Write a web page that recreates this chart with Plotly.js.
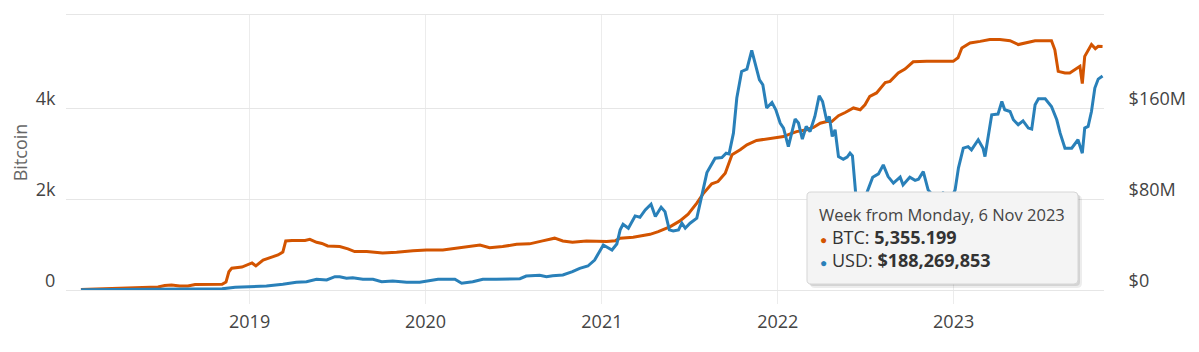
<!DOCTYPE html>
<html><head><meta charset="utf-8">
<script src="https://cdn.plot.ly/plotly-3.0.1.min.js"></script>
<style>html,body{margin:0;padding:0;background:#fff;}#chart{width:1199px;height:352px;}</style>
</head><body><div id="chart"></div>
<script>
// ---- data ----
const btcDates = [
'2018-01-16','2018-04-07','2018-06-25','2018-07-09','2018-07-23','2018-08-09','2018-08-26','2018-09-10','2018-11-05','2018-11-13','2018-11-19','2018-11-25','2018-12-16',
'2019-01-06','2019-01-14','2019-01-29','2019-02-12','2019-03-01','2019-03-11','2019-03-17','2019-03-30','2019-04-15','2019-04-26','2019-05-06','2019-05-20','2019-05-31','2019-06-12','2019-07-07','2019-07-24','2019-08-07','2019-09-01','2019-10-04','2019-11-02','2019-12-06',
'2020-01-03','2020-02-06','2020-03-05','2020-04-02','2020-04-23','2020-05-13','2020-06-09','2020-07-08','2020-08-04','2020-08-31','2020-09-25','2020-10-12','2020-11-01','2020-11-30','2020-12-29',
'2021-01-11','2021-01-29','2021-02-08','2021-03-07','2021-04-11','2021-04-28','2021-05-23','2021-06-12','2021-06-29','2021-07-17','2021-07-30','2021-08-17','2021-08-30','2021-09-14','2021-09-28','2021-10-15','2021-10-29','2021-11-18','2021-12-09','2021-12-30',
'2022-01-13','2022-01-27','2022-02-09','2022-03-02','2022-03-16','2022-03-30','2022-04-13','2022-04-23','2022-04-30','2022-05-07','2022-05-21','2022-06-07','2022-06-21','2022-07-01','2022-07-11','2022-07-25','2022-08-12','2022-08-22','2022-09-08','2022-09-22','2022-10-09','2022-11-06','2022-12-31',
'2023-01-10','2023-01-18','2023-02-04','2023-02-25','2023-03-17','2023-04-07','2023-04-28','2023-05-15','2023-06-01','2023-06-19','2023-07-23','2023-07-30','2023-08-06','2023-08-20','2023-08-30','2023-09-16','2023-09-20','2023-09-25','2023-09-30','2023-10-14','2023-10-22','2023-10-28','2023-11-06'
];
const btcValues = [
10,30,65,100,110,88,88,120,125,175,400,480,505,
595,530,660,715,770,835,1080,1090,1085,1090,1115,1050,1025,970,955,905,845,845,815,830,865,
880,880,920,955,990,930,955,1005,1015,1080,1140,1080,1050,1080,1080,
1065,1085,1140,1160,1225,1285,1395,1520,1670,1910,2115,2335,2385,2570,2975,3085,3195,3290,3320,3340,
3375,3435,3485,3525,3575,3670,3705,3705,3780,3835,3905,4005,3965,4075,4260,4335,4565,4590,4775,4860,5020,5030,5030,
5110,5325,5435,5470,5510,5510,5485,5400,5435,5485,5485,5285,4810,4775,4775,4885,4920,4540,5140,5400,5310,5360,5355.199
];
const usdDates = [
'2018-01-16','2018-06-08','2018-11-05','2018-12-02',
'2019-01-12','2019-02-05','2019-03-11','2019-04-08','2019-04-29','2019-05-20','2019-06-10','2019-06-27','2019-07-07','2019-07-21','2019-08-03','2019-08-24','2019-09-14','2019-10-02','2019-10-25','2019-11-23','2019-12-20',
'2020-01-10','2020-01-27','2020-03-02','2020-03-16','2020-04-08','2020-04-29','2020-05-27','2020-06-24','2020-07-15','2020-07-28','2020-08-25','2020-09-08','2020-09-21','2020-10-12','2020-11-01','2020-11-16','2020-12-03','2020-12-17',
'2021-01-04','2021-01-22','2021-02-01','2021-02-08','2021-02-14','2021-02-25','2021-03-11','2021-03-21','2021-04-01','2021-04-13','2021-04-22','2021-05-04','2021-05-12','2021-05-21','2021-05-29','2021-06-09','2021-06-16','2021-06-23','2021-07-03','2021-07-17','2021-07-27','2021-08-07','2021-08-24','2021-09-07','2021-09-16','2021-09-22','2021-10-01','2021-10-08','2021-10-18','2021-10-29','2021-11-08','2021-11-15','2021-11-24','2021-12-01','2021-12-09','2021-12-20','2021-12-28',
'2022-01-06','2022-01-13','2022-01-23','2022-02-06','2022-02-13','2022-02-21','2022-03-01','2022-03-09','2022-03-19','2022-03-28','2022-04-04','2022-04-13','2022-04-18','2022-04-24','2022-04-30','2022-05-07','2022-05-17','2022-05-25','2022-05-31','2022-06-05','2022-06-12','2022-06-19','2022-06-27','2022-07-05','2022-07-17','2022-07-29','2022-08-08','2022-08-18','2022-08-29','2022-09-12','2022-09-18','2022-10-02','2022-10-13','2022-10-20','2022-10-30','2022-11-09','2022-11-20','2022-11-29','2022-12-10','2022-12-20','2022-12-31',
'2023-01-04','2023-01-11','2023-01-21','2023-01-31','2023-02-07','2023-02-21','2023-03-03','2023-03-07','2023-03-21','2023-04-03','2023-04-11','2023-04-17','2023-04-28','2023-05-05','2023-05-15','2023-05-25','2023-06-05','2023-06-12','2023-06-19','2023-06-26','2023-07-10','2023-07-23','2023-08-03','2023-08-10','2023-08-20','2023-09-03','2023-09-16','2023-09-25','2023-09-30','2023-10-07','2023-10-14','2023-10-21','2023-10-28','2023-11-06'
];
const usdMillions = [
0.3,0.8,1.0,2.5,
3.5,3.5,5.0,6.8,7.3,9.4,8.8,11.7,11.7,10.3,10.8,9.4,9.4,7.3,7.9,6.8,6.8,
7.9,9.4,9.4,5.9,7.3,9.4,9.4,9.7,10.0,12.3,13.0,11.7,12.6,13.2,16.1,19.1,21.1,26.4,
39.6,35.2,40.5,52.9,57.9,54.4,65.2,64.0,70.5,75.5,64.6,72.9,69.0,52.9,52.0,52.9,58.8,54.4,58.8,63.2,83.7,103.3,116.0,116.6,120.4,119.8,138.0,168.9,192.3,194.4,210.8,199.7,185.0,180.6,160.1,165.0,158.6,
146.9,142.5,126.2,150.4,146.9,132.8,143.9,139.5,152.7,170.9,165.9,148.3,152.7,135.1,141.0,117.4,115.1,116.9,120.4,118.1,83.7,75.8,79.3,85.7,99.3,102.2,110.1,99.8,94.0,99.3,92.5,99.3,96.5,97.5,104.2,88.1,82.8,81.9,85.5,82.8,84.6,
88.0,107.5,124.8,126.2,123.3,132.2,124.8,117.4,154.2,154.8,165.9,158.6,157.1,149.8,145.4,148.9,142.5,141.6,163.0,168.3,168.3,161.5,149.8,138.0,124.8,124.8,132.2,120.4,142.5,143.9,157.1,177.7,185.6,188.269853
];
const xTickValues = ['2019-01-01','2020-01-01','2021-01-01','2022-01-01','2023-01-01'];
const xTickLabels = ['2019','2020','2021','2022','2023'];
const leftTickValues = [0, 2000, 4000];
const leftTickLabels = ['0', '2k', '4k'];
const rightTickValues = [0, 80, 160];
const rightTickLabels = ['$0', '$80M', '$160M'];
const tooltipTitle = 'Week from Monday, 6 Nov 2023';
const tooltipBtc = '5,355.199';
const tooltipUsd = '$188,269,853';

// ---- drawing ----
const orange = '#d35400', blue = '#2980b9';
const grid = '#e6e6e6';
const plotL = 66, plotR = 1104, plotT = 15, plotB = 290;
const pw = plotR - plotL, ph = plotB - plotT;
const px = v => (v - plotL) / pw;
const py = v => (plotB - v) / ph;

function roundRect(x0, y0, x1, y1, r) {
  const X = v => px(v).toFixed(5), Y = v => py(v).toFixed(5);
  return 'M' + X(x0 + r) + ',' + Y(y0) +
    ' L' + X(x1 - r) + ',' + Y(y0) + ' Q' + X(x1) + ',' + Y(y0) + ' ' + X(x1) + ',' + Y(y0 + r) +
    ' L' + X(x1) + ',' + Y(y1 - r) + ' Q' + X(x1) + ',' + Y(y1) + ' ' + X(x1 - r) + ',' + Y(y1) +
    ' L' + X(x0 + r) + ',' + Y(y1) + ' Q' + X(x0) + ',' + Y(y1) + ' ' + X(x0) + ',' + Y(y1 - r) +
    ' L' + X(x0) + ',' + Y(y0 + r) + ' Q' + X(x0) + ',' + Y(y0) + ' ' + X(x0 + r) + ',' + Y(y0) + ' Z';
}

const traces = [
  {x: btcDates, y: btcValues, type: 'scatter', mode: 'lines', name: 'BTC',
   line: {color: orange, width: 3}, hoverinfo: 'skip'},
  {x: usdDates, y: usdMillions, yaxis: 'y2', type: 'scatter', mode: 'lines', name: 'USD',
   line: {color: blue, width: 3}, hoverinfo: 'skip'}
];

const boxL = 807, boxT = 192, boxR = 1078, boxB = 284;
const textFont = '"Open Sans", sans-serif';
const row = (color, label, value) =>
  '<span style="color:' + color + ';font-size:12px">●</span> ' + label + ': <b>' + value + '</b>';

const layout = {
  width: 1199, height: 352,
  margin: {l: plotL, r: 1199 - plotR, t: plotT, b: 352 - plotB},
  paper_bgcolor: '#ffffff', plot_bgcolor: '#ffffff',
  showlegend: false,
  font: {family: '"Open Sans", "DejaVu Sans", sans-serif', size: 18, color: '#444'},
  xaxis: {
    type: 'date', range: ['2017-12-16', '2023-11-09'],
    tickmode: 'array', tickvals: xTickValues, ticktext: xTickLabels,
    showgrid: true, gridcolor: '#ececec', zeroline: false,
    ticks: 'outside', ticklen: 13, tickcolor: '#ececec',
    ticklabelstandoff: 2,
    showline: true, linecolor: grid, linewidth: 1, mirror: true,
    tickfont: {size: 18, color: '#444'}
  },
  yaxis: {
    range: [0, 6050], tickmode: 'array', tickvals: leftTickValues, ticktext: leftTickLabels,
    showgrid: true, gridcolor: grid, zeroline: false,
    ticks: 'outside', ticklen: 6, tickcolor: 'rgba(0,0,0,0)',
    ticklabelshift: -9,
    tickfont: {size: 18, color: '#444'},
    title: {text: 'Bitcoin', font: {size: 18, color: '#666'}, standoff: 3}
  },
  yaxis2: {
    overlaying: 'y', side: 'right', range: [0, 242],
    tickmode: 'array', tickvals: rightTickValues, ticktext: rightTickLabels,
    showgrid: false, zeroline: false,
    ticks: 'outside', ticklen: 20, tickcolor: 'rgba(0,0,0,0)',
    ticklabelshift: -9,
    tickfont: {size: 18, color: '#444'}
  },
  shapes: [
    {type: 'path', xref: 'paper', yref: 'paper', layer: 'above',
     path: roundRect(boxL + 3, boxT + 3, boxR + 4, boxB + 4, 5),
     fillcolor: 'rgba(0,0,0,0.07)', line: {width: 0}},
    {type: 'path', xref: 'paper', yref: 'paper', layer: 'above',
     path: roundRect(boxL + 2, boxT + 2, boxR + 2, boxB + 2, 4),
     fillcolor: 'rgba(0,0,0,0.10)', line: {width: 0}},
    {type: 'path', xref: 'paper', yref: 'paper', layer: 'above',
     path: roundRect(boxL, boxT, boxR, boxB, 4),
     fillcolor: '#f4f4f4', line: {color: '#d6d6d6', width: 1}}
  ],
  annotations: [
    {xref: 'paper', yref: 'paper', x: px(818), y: py(214), xanchor: 'left', yanchor: 'middle',
     showarrow: false, text: tooltipTitle, borderpad: 0,
     font: {family: textFont, size: 16.5, color: '#444'}},
    {xref: 'paper', yref: 'paper', x: px(819), y: py(237), xanchor: 'left', yanchor: 'middle',
     showarrow: false, align: 'left', borderpad: 0,
     text: row(orange, 'BTC', tooltipBtc),
     font: {family: textFont, size: 18, color: '#333'}},
    {xref: 'paper', yref: 'paper', x: px(819), y: py(260), xanchor: 'left', yanchor: 'middle',
     showarrow: false, align: 'left', borderpad: 0,
     text: row(blue, 'USD', tooltipUsd),
     font: {family: textFont, size: 18, color: '#333'}}
  ]
};

Plotly.newPlot('chart', traces, layout, {displayModeBar: false, staticPlot: true});
</script>
</body></html>
